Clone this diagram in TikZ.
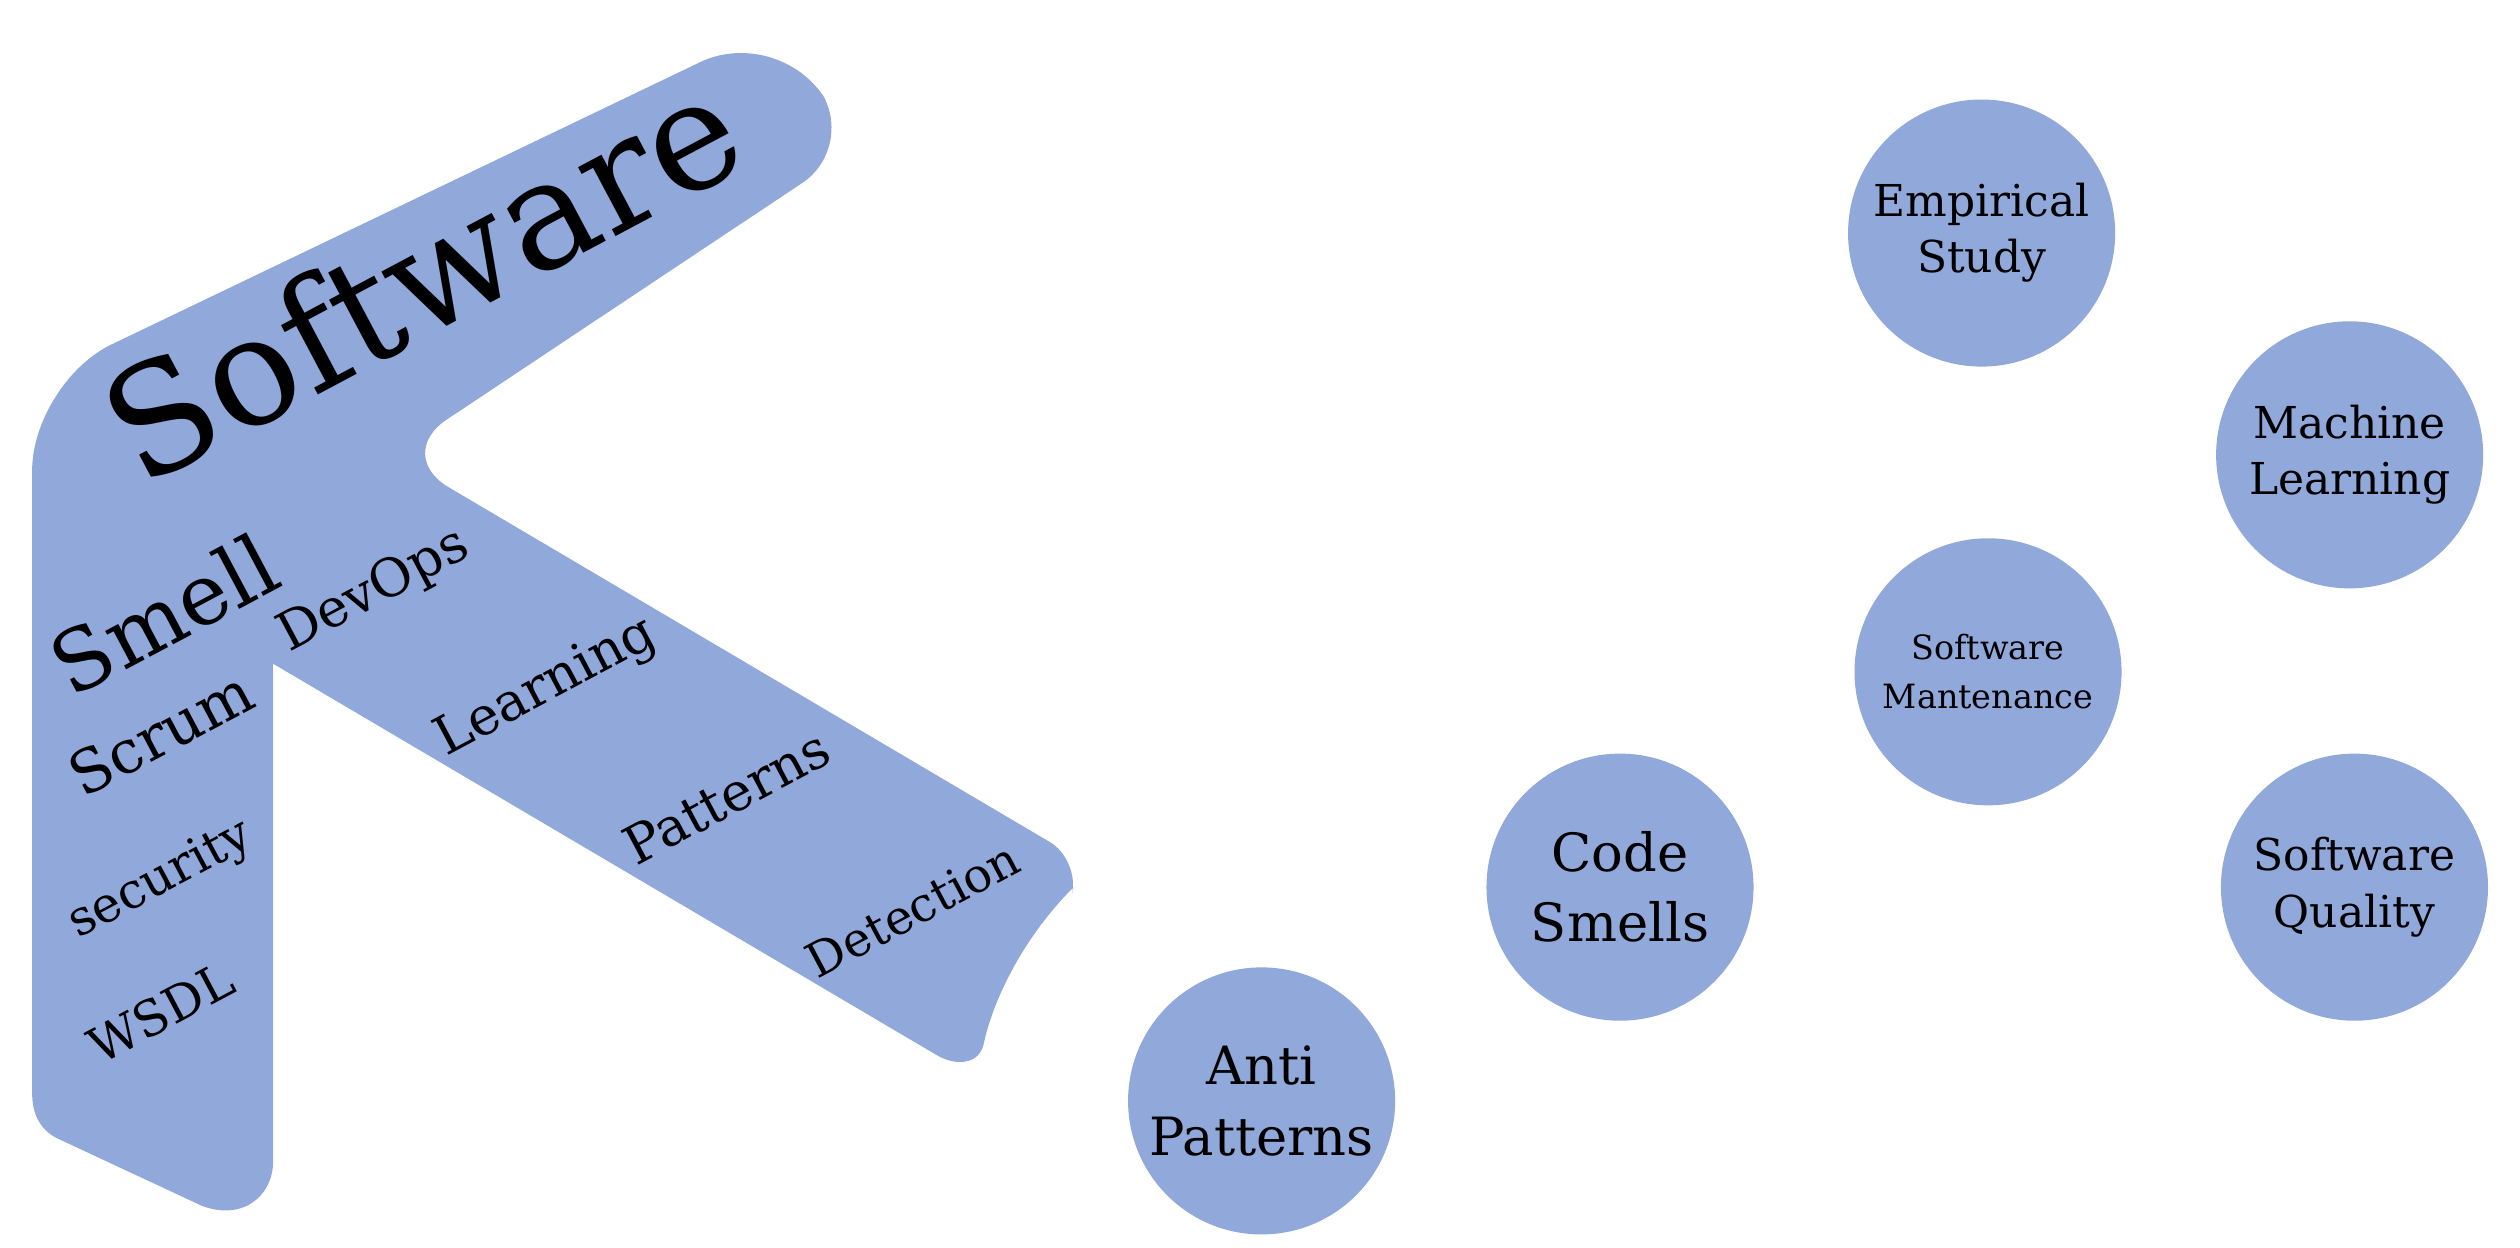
\documentclass[tikz,border=0pt]{standalone}
\usepackage{fontspec}
\setmainfont{DejaVu Serif}
\definecolor{blu}{HTML}{91A8DA}
\begin{document}
\begin{tikzpicture}[x=0.01607cm,y=-0.01607cm,
  circ/.style={circle,fill=blu,minimum size=2.67cm,inner sep=0,align=center,font=\fontsize{12.5}{16}\selectfont},
  lab/.style={rotate=28,inner sep=0}]
\useasboundingbox (0,0) rectangle (1568,776);
\fill[blu] (20,400) [rounded corners=25] -- (20,238) -- (485,15) [rounded corners=18] -- (532,92) -- (245,283)
  [rounded corners=10] -- (672,535) [sharp corners] -- (668,552)
  .. controls (635,585) and (617,625) .. (612,650)
  .. controls (609,662) and (595,664) .. (582,656)
  -- (170,413) -- (170,722)
  .. controls (170,745) and (150,760) .. (125,750)
  -- (35,708) .. controls (24,702) and (20,692) .. (20,680) -- cycle;
\node[lab,font=\fontsize{43}{50}\selectfont] (sw) at (262,172) {Software};
\node[lab,font=\fontsize{24}{30}\selectfont] (sm) at (102,382) {Smell};
\node[lab,font=\fontsize{17}{22}\selectfont] (sc) at (100,456) {Scrum};
\node[lab,font=\fontsize{14}{19}\selectfont] (se) at (100,548) {security};
\node[lab,font=\fontsize{14}{19}\selectfont] (ws) at (100,630) {WSDL};
\node[lab,font=\fontsize{15}{20}\selectfont] (dv) at (233,368) {DevOps};
\node[lab,font=\fontsize{15}{20}\selectfont] (le) at (340,428) {Learning};
\node[lab,font=\fontsize{15}{20}\selectfont] (pa) at (452,496) {Patterns};
\node[lab,font=\fontsize{13.5}{18}\selectfont] (de) at (568,566) {Detection};
\node[circ] (c1) at (1233,145) {Empirical\\Study};
\node[circ] (c2) at (1462,283) {Machine\\Learning};
\node[circ,font=\fontsize{9.5}{14}\selectfont] (c3) at (1237,418) {Software\\Mantenance};
\node[circ,font=\fontsize{15}{20}\selectfont] (c4) at (1008,552) {Code\\Smells};
\node[circ] (c5) at (1465,552) {Software\\Quality};
\node[circ,font=\fontsize{15}{20}\selectfont] (c6) at (785,685) {Anti\\Patterns};
\end{tikzpicture}
\end{document}
